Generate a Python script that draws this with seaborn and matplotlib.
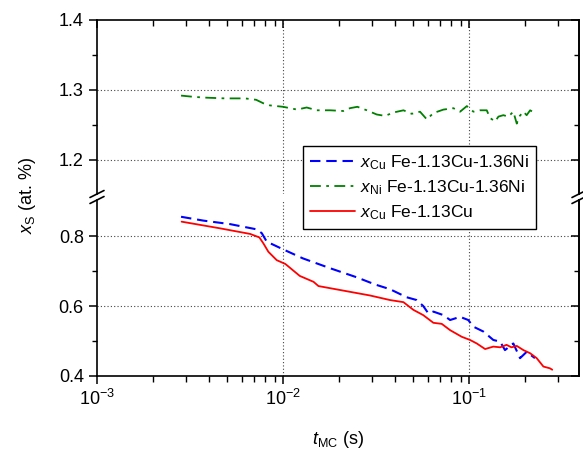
import numpy as np
import pandas as pd
import seaborn as sns
import matplotlib
matplotlib.use("Agg")
import matplotlib.pyplot as plt
from matplotlib.lines import Line2D

# x_Cu in Fe-1.13Cu-1.36Ni (blue dashed)
t_cu_ni = [2.83e-3, 3.73e-3, 5.19e-3, 7.22e-3, 7.69e-3, 8.17e-3, 1.0e-2, 1.28e-2,
           1.79e-2, 2.49e-2, 2.94e-2, 3.19e-2, 3.76e-2, 4.62e-2, 5.23e-2, 5.67e-2,
           6.04e-2, 6.43e-2, 7.28e-2, 7.91e-2, 8.95e-2, 9.9e-2, 0.1055, 0.1194,
           0.135, 0.147, 0.156, 0.173, 0.188, 0.204, 0.226]
x_cu_ni = [0.855, 0.844, 0.834, 0.819, 0.808, 0.784, 0.762, 0.736,
           0.708, 0.682, 0.667, 0.660, 0.648, 0.625, 0.617, 0.600,
           0.579, 0.584, 0.574, 0.560, 0.569, 0.560, 0.541, 0.527,
           0.503, 0.498, 0.474, 0.493, 0.451, 0.469, 0.451]

# x_Ni in Fe-1.13Cu-1.36Ni (green dash-dot)
t_ni = [2.83e-3, 3.37e-3, 3.89e-3, 4.88e-3, 6.25e-3, 7.17e-3, 7.84e-3, 8.5e-3,
        1.0e-2, 1.19e-2, 1.34e-2, 1.52e-2, 1.79e-2, 2.11e-2, 2.29e-2, 2.51e-2,
        2.82e-2, 3.19e-2, 3.53e-2, 3.95e-2, 4.44e-2, 4.92e-2, 5.45e-2, 5.93e-2,
        6.43e-2, 7.28e-2, 8.24e-2, 8.95e-2, 9.73e-2, 0.1055, 0.1146, 0.1245,
        0.1297, 0.138, 0.1439, 0.1529, 0.1627, 0.173, 0.1805, 0.186, 0.196,
        0.204, 0.213, 0.226]
x_ni = [1.292, 1.290, 1.289, 1.288, 1.288, 1.286, 1.281, 1.278,
        1.276, 1.272, 1.275, 1.271, 1.271, 1.270, 1.274, 1.276,
        1.271, 1.265, 1.263, 1.268, 1.271, 1.266, 1.269, 1.258,
        1.267, 1.272, 1.274, 1.269, 1.277, 1.269, 1.271, 1.271,
        1.260, 1.255, 1.262, 1.264, 1.262, 1.269, 1.252, 1.262, 1.269,
        1.264, 1.271, 1.267]

# x_Cu in Fe-1.13Cu (red solid)
t_cu = [2.85e-3, 4.58e-3, 6.65e-3, 7.46e-3, 7.84e-3, 8.34e-3, 9.25e-3, 1.03e-2,
        1.23e-2, 1.46e-2, 1.55e-2, 2.11e-2, 2.94e-2, 3.76e-2, 4.44e-2, 5.02e-2,
        5.67e-2, 6.43e-2, 7.13e-2, 7.91e-2, 9.14e-2, 0.1012, 0.110, 0.122,
        0.135, 0.147, 0.159, 0.169, 0.1805, 0.196, 0.213, 0.231, 0.251,
        0.272, 0.280]
x_cu = [0.841, 0.822, 0.806, 0.796, 0.779, 0.755, 0.731, 0.720,
        0.686, 0.669, 0.657, 0.644, 0.630, 0.617, 0.611, 0.589,
        0.574, 0.552, 0.549, 0.531, 0.512, 0.503, 0.493, 0.477,
        0.484, 0.482, 0.489, 0.482, 0.486, 0.474, 0.465, 0.451, 0.427,
        0.422, 0.418]

labels = [r"$x_\mathrm{Cu}$ Fe-1.13Cu-1.36Ni",
          r"$x_\mathrm{Ni}$ Fe-1.13Cu-1.36Ni",
          r"$x_\mathrm{Cu}$ Fe-1.13Cu"]

sns.set_style("ticks")
plt.rcParams["font.family"] = ["Liberation Sans", "DejaVu Sans"]
plt.rcParams["mathtext.fontset"] = "custom"
plt.rcParams["mathtext.rm"] = "Liberation Sans"
plt.rcParams["mathtext.it"] = "Liberation Sans:italic"
plt.rcParams["axes.linewidth"] = 1.2
for k in ("text.color", "axes.labelcolor", "xtick.color", "ytick.color",
          "axes.edgecolor"):
    plt.rcParams[k] = "black"

W, H = 583, 454
fig = plt.figure(figsize=(W / 100, H / 100), dpi=100)
L, R = 97, 579
ax_top = fig.add_axes([L / W, 1 - 194 / H, (R - L) / W, 174 / H])
ax_bot = fig.add_axes([L / W, 1 - 376 / H, (R - L) / W, 176 / H])

df_cu_ni = pd.DataFrame({"t": t_cu_ni, "x": x_cu_ni})
df_ni = pd.DataFrame({"t": t_ni, "x": x_ni})
df_cu = pd.DataFrame({"t": t_cu, "x": x_cu})

blue_dash = (5, 2.8)
green_dash = (6, 3, 1.5, 3)
sns.lineplot(data=df_cu_ni, x="t", y="x", ax=ax_bot, color="#0000ff", lw=1.5,
             linestyle=(0, blue_dash), sort=False, estimator=None, legend=False)
sns.lineplot(data=df_ni, x="t", y="x", ax=ax_top, color="#008000", lw=1.3,
             linestyle=(0, green_dash), sort=False, estimator=None, legend=False)
sns.lineplot(data=df_cu, x="t", y="x", ax=ax_bot, color="#ff0000", lw=1.3,
             sort=False, estimator=None, legend=False)

for ax in (ax_top, ax_bot):
    ax.set_xscale("log")
    ax.set_xlim(1e-3, 0.39)
    ax.set_xlabel("")
    ax.set_ylabel("")
    ax.grid(False)
    for xv in (1e-2, 1e-1):
        ax.axvline(xv, color="#444444", lw=0.8, ls=(0, (1, 2)), zorder=0)

ax_top.set_ylim(1.1514, 1.4)
ax_bot.set_ylim(0.4, 0.9029)
ax_top.set_yticks([1.2, 1.3, 1.4])
ax_top.set_yticks([1.25, 1.35], minor=True)
ax_bot.set_yticks([0.4, 0.6, 0.8])
ax_bot.set_yticks([0.5, 0.7], minor=True)
for yv in (1.2, 1.3):
    ax_top.axhline(yv, color="#444444", lw=0.8, ls=(0, (1, 2)), zorder=0)
for yv in (0.6, 0.8):
    ax_bot.axhline(yv, color="#444444", lw=0.8, ls=(0, (1, 2)), zorder=0)

ax_top.spines["bottom"].set_visible(False)
ax_bot.spines["top"].set_visible(False)
ax_top.tick_params(axis="x", which="both", bottom=False, labelbottom=False,
                   top=True, direction="in")
ax_top.tick_params(axis="x", which="major", length=6, width=1.1)
ax_top.tick_params(axis="x", which="minor", length=4, width=1.0)
ax_bot.tick_params(axis="x", which="both", top=False, direction="out")
ax_bot.tick_params(axis="x", which="major", length=6, width=1.1, labelsize=13, pad=3)
ax_bot.tick_params(axis="x", which="minor", length=4, width=1.0)

for ax in (ax_top, ax_bot):
    ax.tick_params(axis="y", which="both", left=True, right=False, direction="out",
                   labelsize=13)
    ax.tick_params(axis="y", which="major", length=6, width=1.1)
    ax.tick_params(axis="y", which="minor", length=3.5, width=1.0)
    sec = ax.secondary_yaxis("right")
    sec.set_yticks(ax.get_yticks())
    sec.set_yticks(ax.get_yticks(minor=True), minor=True)
    sec.tick_params(axis="y", which="both", direction="in", labelright=False)
    sec.tick_params(axis="y", which="major", length=6, width=1.1)
    sec.tick_params(axis="y", which="minor", length=3.5, width=1.0)
    sec.spines["right"].set_linewidth(1.2)

# axis break marks
for xp in (L, R):
    for yp in (194, 200):
        fig.add_artist(Line2D([(xp - 7) / W, (xp + 7) / W],
                              [1 - (yp + 3.5) / H, 1 - (yp - 3.5) / H],
                              transform=fig.transFigure, color="black", lw=1.2))

fig.text(27 / W, 1 - 195 / H, r"$x_\mathrm{S}$ (at. %)", rotation=90,
         ha="center", va="center", fontsize=13)
fig.text(338 / W, 1 - 439 / H, r"$t_\mathrm{MC}$ (s)", ha="center", va="center",
         fontsize=13)

handles = [Line2D([], [], color="#0000ff", lw=1.5, dashes=blue_dash),
           Line2D([], [], color="#008000", lw=1.3, dashes=green_dash),
           Line2D([], [], color="#ff0000", lw=1.3)]
leg = fig.legend(handles, labels, loc="upper left",
                 bbox_to_anchor=(303 / W, 1 - 146 / H), fontsize=12.5,
                 frameon=True, fancybox=False, edgecolor="black",
                 handlelength=2.6, handletextpad=0.3, labelspacing=0.38,
                 borderpad=0.4, borderaxespad=0)
leg.get_frame().set_linewidth(1.0)
leg.get_frame().set_alpha(1)

fig.savefig("out.png", dpi=100)
